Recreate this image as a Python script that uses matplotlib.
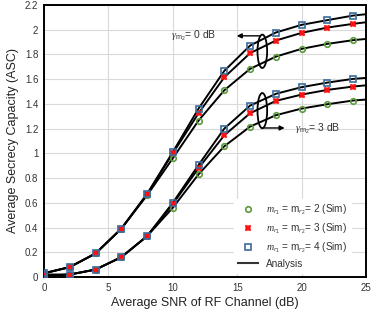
import matplotlib
matplotlib.use("Agg")
import matplotlib.pyplot as plt
from matplotlib.patches import Ellipse
from matplotlib.lines import Line2D

plt.rcParams['font.family'] = ['Liberation Sans', 'DejaVu Sans']
plt.rcParams['mathtext.fontset'] = 'custom'
plt.rcParams['mathtext.rm'] = 'Liberation Sans'
plt.rcParams['mathtext.it'] = 'Liberation Serif:italic'

snr = [0, 2, 4, 6, 8, 10, 12, 14, 16, 18, 20, 22, 24]

# gamma_m2 = 0 dB
g0_m2 = [0.03, 0.08, 0.19, 0.39, 0.66, 0.96, 1.265, 1.51, 1.683, 1.782, 1.845, 1.885, 1.915]
g0_m3 = [0.03, 0.08, 0.19, 0.39, 0.67, 1.00, 1.324, 1.615, 1.81, 1.912, 1.974, 2.017, 2.047]
g0_m4 = [0.03, 0.08, 0.19, 0.39, 0.67, 1.01, 1.362, 1.667, 1.871, 1.977, 2.039, 2.077, 2.114]
# gamma_m2 = 3 dB
g3_m2 = [0.01, 0.02, 0.06, 0.16, 0.33, 0.56, 0.83, 1.057, 1.216, 1.308, 1.362, 1.397, 1.427]
g3_m3 = [0.01, 0.02, 0.06, 0.16, 0.33, 0.59, 0.88, 1.146, 1.324, 1.424, 1.475, 1.513, 1.540]
g3_m4 = [0.02, 0.02, 0.06, 0.16, 0.33, 0.60, 0.906, 1.20, 1.386, 1.481, 1.535, 1.572, 1.602]

# analysis curve end values at SNR = 25 dB
end_snr = 25
g0_end = [1.925, 2.06, 2.125]
g3_end = [1.435, 1.55, 1.61]

fig = plt.figure(figsize=(3.74, 3.12), dpi=100)
ax = fig.add_axes([0.1176, 0.1122, 0.861, 0.872])

green = '#5b9a3c'
red = '#ff1010'
blue = '#3b6b9c'

for sims, ends in (((g0_m2, g0_m3, g0_m4), g0_end), ((g3_m2, g3_m3, g3_m4), g3_end)):
    for s, e in zip(sims, ends):
        ax.plot(snr + [end_snr], s + [e], color='black', lw=1.4, zorder=2)

mk = dict(
    m2=dict(ls='none', marker='o', ms=4.0, mfc='none', mec=green, mew=1.2),
    m3=dict(ls='none', marker='X', ms=4.5, mfc=red, mec=red, mew=0.3),
    m4=dict(ls='none', marker='s', ms=4.3, mfc='none', mec=blue, mew=1.2),
)
for sims in ((g0_m2, g0_m3, g0_m4), (g3_m2, g3_m3, g3_m4)):
    ax.plot(snr, sims[0], zorder=3, **mk['m2'])
    ax.plot(snr, sims[1], zorder=4, **mk['m3'])
    ax.plot(snr, sims[2], zorder=5, **mk['m4'])

ax.set_xlim(0, 25)
ax.set_ylim(0, 2.2)
ax.set_xticks([0, 5, 10, 15, 20, 25])
ax.set_yticks([0, 0.2, 0.4, 0.6, 0.8, 1, 1.2, 1.4, 1.6, 1.8, 2, 2.2])
ax.set_yticklabels(['0', '0.2', '0.4', '0.6', '0.8', '1', '1.2', '1.4', '1.6', '1.8', '2', '2.2'])
ax.tick_params(labelsize=7, length=0, pad=4, labelcolor='#333333')
ax.grid(True, color='#d9d9d9', lw=0.8)
ax.set_axisbelow(True)
for sp in ax.spines.values():
    sp.set_linewidth(1.4)
ax.set_xlabel('Average SNR of RF Channel (dB)', fontsize=9, labelpad=3, color='#222222')
ax.set_ylabel('Average Secrecy Capacity (ASC)', fontsize=9, labelpad=4, color='#222222')

# ellipses and annotations
ax.add_patch(Ellipse((16.95, 1.825), 0.75, 0.27, fill=False, lw=1.3, color='black', zorder=6))
ax.add_patch(Ellipse((16.95, 1.345), 0.75, 0.285, fill=False, lw=1.3, color='black', zorder=6))
ax.annotate('', xy=(14.75, 1.95), xytext=(17.0, 1.95),
            arrowprops=dict(arrowstyle='-|>', color='black', lw=1.0, mutation_scale=7))
ax.annotate('', xy=(18.9, 1.205), xytext=(16.75, 1.205),
            arrowprops=dict(arrowstyle='-|>', color='black', lw=1.0, mutation_scale=7))
ax.text(9.9, 1.95, r'$\gamma_{\mathrm{m}_2}$= 0 dB', fontsize=7.5, va='center', ha='left', color='#333333')
ax.text(19.5, 1.2, r'$\gamma_{\mathrm{m}_2}$= 3 dB', fontsize=7.5, va='center', ha='left', color='#333333')

# legend
handles = [
    Line2D([], [], **mk['m2']),
    Line2D([], [], **mk['m3']),
    Line2D([], [], **mk['m4']),
    Line2D([], [], color='#333333', lw=1.5),
]
labels = [r'$m_{r_1}$ = m$_{r_2}$= 2 (Sim)', r'$m_{r_1}$ = m$_{r_2}$= 3 (Sim)',
          r'$m_{r_1}$ = m$_{r_2}$= 4 (Sim)', 'Analysis']
leg = ax.legend(handles, labels, loc='lower right', bbox_to_anchor=(0.965, 0.0),
                fontsize=7.2, frameon=True, framealpha=1,
                edgecolor='white', handlelength=2.0, labelspacing=0.42, borderaxespad=0.4,
                handletextpad=0.8)
for t in leg.get_texts():
    t.set_color('#333333')

fig.savefig('out.png', dpi=100)
